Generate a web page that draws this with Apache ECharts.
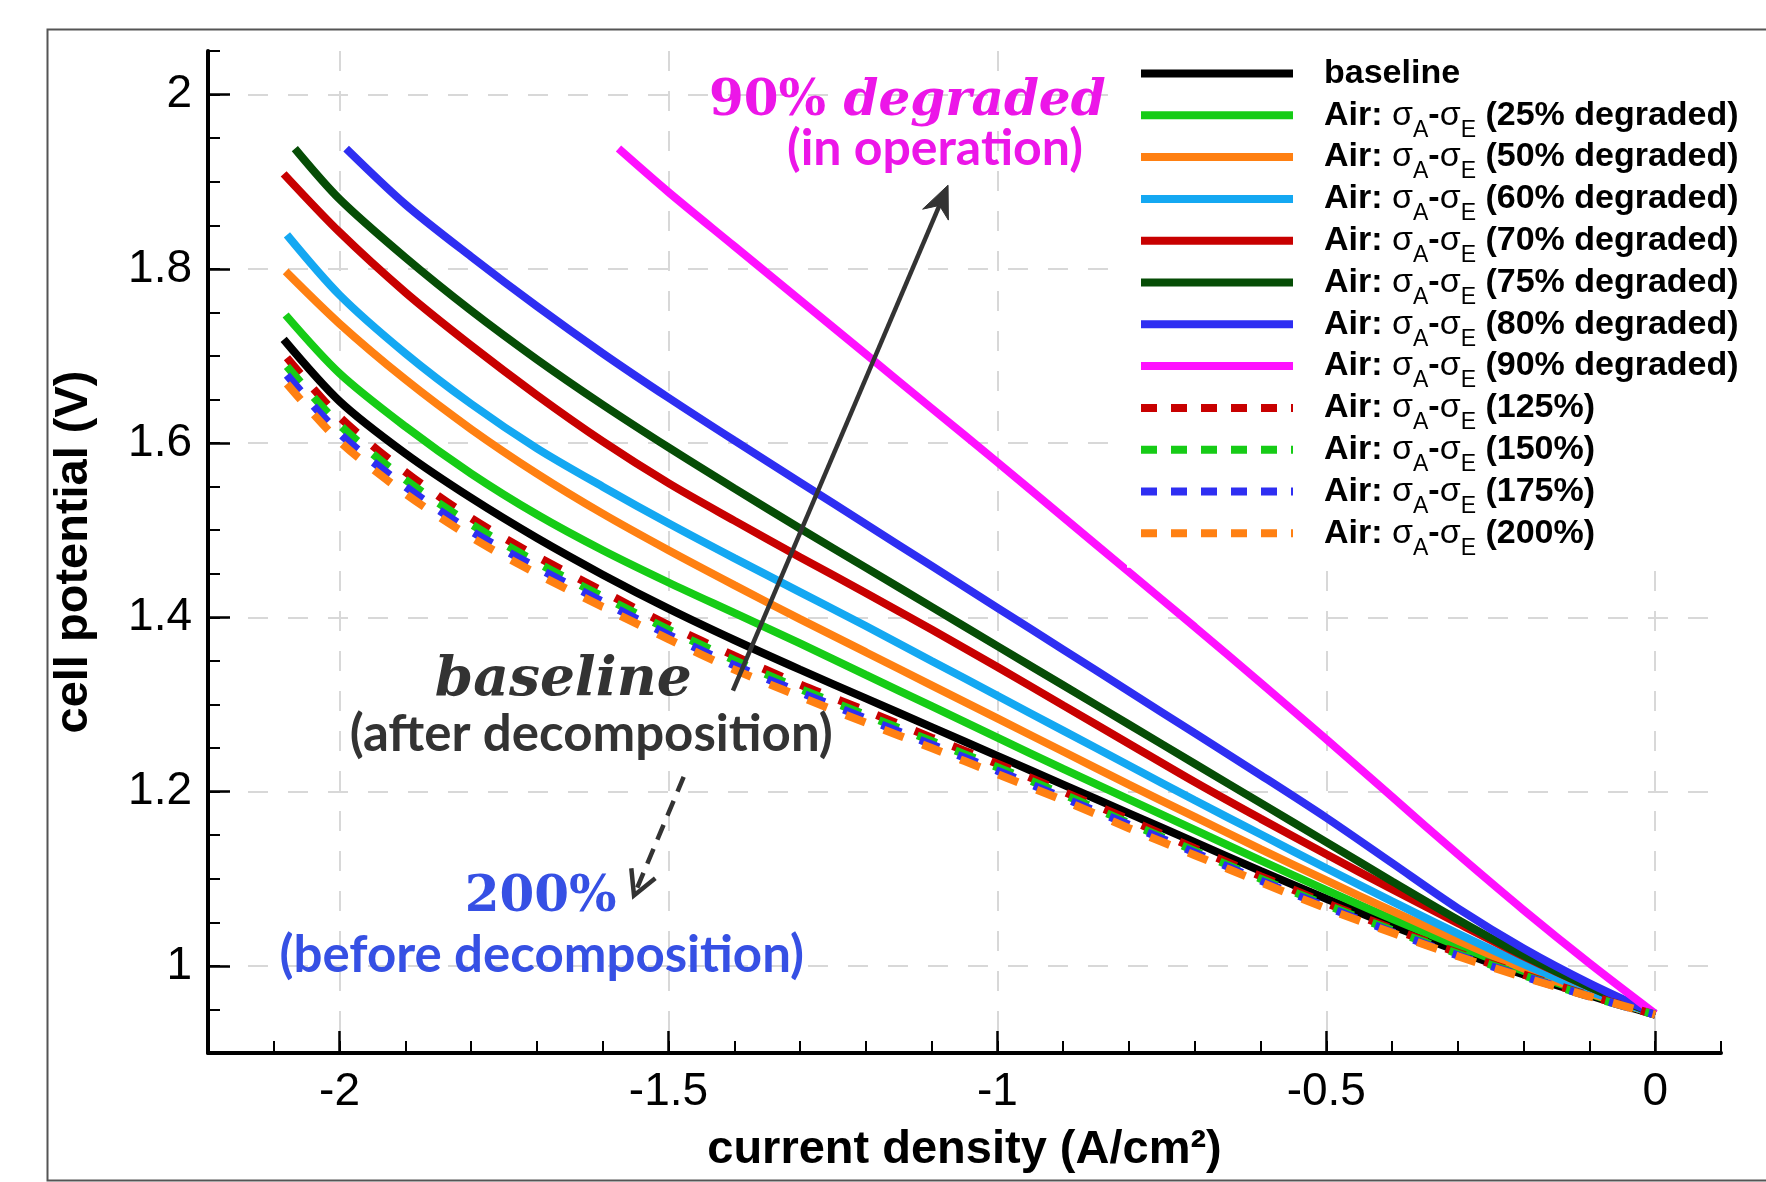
<!DOCTYPE html>
<html>
<head>
<meta charset="utf-8">
<script src="https://cdn.jsdelivr.net/npm/echarts@6/dist/echarts.min.js"></script>
<style>
html,body{margin:0;padding:0;background:#fff;}
#c{width:1766px;height:1182px;}
</style>
</head>
<body>
<div id="c"></div>
<script>
// ---------------- data ----------------
const currentDensity = [-2.0,-1.9,-1.8,-1.7,-1.6,-1.5,-1.4,-1.3,-1.2,-1.1,-1.0,-0.9,-0.8,-0.7,-0.6,-0.5,-0.4,-0.3,-0.2,-0.1,0];

const xTickValues = [-2, -1.5, -1, -0.5, 0];
const yTickValues = [1, 1.2, 1.4, 1.6, 1.8, 2];

const startBaseline = [-2.085, 1.719];
const baseline = [1.648,1.588,1.537,1.491,1.449,1.410,1.374,1.340,1.307,1.274,1.241,1.208,1.175,1.142,1.109,1.077,1.046,1.017,0.990,0.966,0.944];

const start25 = [-2.082, 1.747];
const degraded25 = [1.680,1.619,1.565,1.518,1.477,1.440,1.405,1.370,1.334,1.298,1.262,1.226,1.191,1.156,1.121,1.087,1.054,1.023,0.994,0.968,0.945];

const start50 = [-2.082, 1.797];
const degraded50 = [1.737,1.673,1.616,1.565,1.519,1.477,1.437,1.398,1.360,1.322,1.284,1.246,1.208,1.171,1.134,1.098,1.063,1.029,0.997,0.969,0.945];

const start60 = [-2.080, 1.839];
const degraded60 = [1.770,1.703,1.645,1.594,1.550,1.508,1.468,1.429,1.390,1.350,1.310,1.270,1.230,1.190,1.151,1.112,1.074,1.037,1.002,0.971,0.945];

const start70 = [-2.085, 1.909];
const degraded70 = [1.842,1.773,1.712,1.655,1.602,1.554,1.511,1.469,1.428,1.386,1.343,1.299,1.255,1.211,1.169,1.128,1.088,1.049,1.011,0.976,0.945];

const start75 = [-2.068, 1.938];
const degraded75 = [1.880,1.813,1.752,1.696,1.644,1.595,1.548,1.502,1.457,1.412,1.367,1.322,1.277,1.232,1.187,1.142,1.097,1.053,1.012,0.976,0.945];

const start80 = [-1.990, 1.938];
const degraded80 = [null,1.874,1.814,1.757,1.703,1.652,1.603,1.555,1.507,1.459,1.411,1.363,1.315,1.267,1.219,1.170,1.118,1.066,1.020,0.980,0.945];

const start90 = [-1.576, 1.938];
const degraded90 = [null,null,null,null,null,1.888,1.826,1.764,1.702,1.640,1.578,1.515,1.452,1.389,1.325,1.260,1.194,1.128,1.064,1.003,0.945];

const start125 = [-2.080, 1.698];
const ratio125 = [1.630,1.567,1.514,1.470,1.430,1.391,1.356,1.323,1.293,1.262,1.232,1.200,1.168,1.135,1.103,1.072,1.043,1.015,0.990,0.966,0.944];

const start150 = [-2.080, 1.688];
const ratio150 = [1.621,1.558,1.507,1.463,1.424,1.386,1.351,1.318,1.288,1.258,1.228,1.197,1.164,1.132,1.100,1.070,1.041,1.014,0.989,0.965,0.944];

const start175 = [-2.080, 1.678];
const ratio175 = [1.611,1.550,1.499,1.457,1.418,1.380,1.345,1.314,1.284,1.254,1.224,1.193,1.162,1.130,1.098,1.068,1.039,1.012,0.988,0.965,0.944];

const start200 = [-2.080, 1.668];
const ratio200 = [1.602,1.542,1.492,1.450,1.412,1.375,1.340,1.309,1.279,1.250,1.220,1.190,1.158,1.127,1.096,1.066,1.038,1.011,0.987,0.965,0.944];

const seriesNames = [
  'baseline',
  'Air: σA-σE (25% degraded)',
  'Air: σA-σE (50% degraded)',
  'Air: σA-σE (60% degraded)',
  'Air: σA-σE (70% degraded)',
  'Air: σA-σE (75% degraded)',
  'Air: σA-σE (80% degraded)',
  'Air: σA-σE (90% degraded)',
  'Air: σA-σE (125%)',
  'Air: σA-σE (150%)',
  'Air: σA-σE (175%)',
  'Air: σA-σE (200%)'
];
const seriesStarts = [startBaseline,start25,start50,start60,start70,start75,start80,start90,start125,start150,start175,start200];
const seriesValues = [baseline,degraded25,degraded50,degraded60,degraded70,degraded75,degraded80,degraded90,ratio125,ratio150,ratio175,ratio200];

// ---------------- styles ----------------
const seriesColors = ['#000000','#16cc16','#ff8012','#14a8f2','#c80000','#064d06','#2e2ef2','#ff10ff','#c80000','#16cc16','#2e2ef2','#ff8012'];
const seriesDashed = [false,false,false,false,false,false,false,false,true,true,true,true];

function buildData(start, ys) {
  const d = [start.slice()];
  currentDensity.forEach((x, i) => {
    if (ys[i] != null && x > start[0]) d.push([x, ys[i]]);
  });
  return d;
}

const series = seriesNames.map((name, i) => ({
  name: name,
  type: 'line',
  xAxisIndex: 0,
  yAxisIndex: 0,
  data: buildData(seriesStarts[i], seriesValues[i]),
  symbol: 'none',
  showSymbol: false,
  smooth: 0.3,
  color: seriesColors[i],
  lineStyle: {
    color: seriesColors[i],
    width: 8,
    type: seriesDashed[i] ? [21, 20] : 'solid',
    cap: 'butt'
  },
  emphasis: {disabled: true},
  z: 2 + i * 0.01
}));

const legendData = seriesNames.map((name, i) => seriesDashed[i]
  ? {name: name, lineStyle: {type: [16, 14], width: 8}}
  : {name: name, lineStyle: {width: 8}});

const FONT = 'Liberation Sans, Arial, sans-serif';

const chart = echarts.init(document.getElementById('c'), null, {renderer: 'canvas', width: 1766, height: 1182});

const option = {
  backgroundColor: '#ffffff',
  animation: false,
  grid: {left: 208, right: 45, top: 51, bottom: 129, containLabel: false},
  xAxis: [
    {
      type: 'value', min: -2.2, max: 0.1, position: 'bottom',
      name: 'current density (A/cm²)', nameLocation: 'middle', nameGap: 74,
      nameTextStyle: {fontFamily: FONT, fontWeight: 'bold', fontSize: 47, color: '#000'},
      axisLine: {show: true, onZero: false, lineStyle: {color: '#000', width: 4}},
      axisTick: {show: true, inside: true, length: 22, customValues: xTickValues, lineStyle: {color: '#000', width: 2.5}},
      axisLabel: {show: true, customValues: xTickValues, margin: 16, fontFamily: FONT, fontSize: 46, color: '#000'},
      splitLine: {show: true, lineStyle: {color: '#d8d8d8', width: 2, type: [20, 20]}}
    },
    {
      type: 'value', min: -2.2, max: 0.1, interval: 0.1, position: 'bottom',
      axisLine: {show: false, onZero: false},
      axisTick: {show: true, inside: true, length: 12, lineStyle: {color: '#000', width: 2}},
      axisLabel: {show: false},
      splitLine: {show: false}
    }
  ],
  yAxis: [
    {
      type: 'value', min: 0.9, max: 2.05, position: 'left',
      name: 'cell potential (V)', nameLocation: 'middle', nameGap: 110, nameRotate: 90,
      nameTextStyle: {fontFamily: FONT, fontWeight: 'bold', fontSize: 47, color: '#000'},
      axisLine: {show: true, onZero: false, lineStyle: {color: '#000', width: 4}},
      axisTick: {show: true, inside: true, length: 22, customValues: yTickValues, lineStyle: {color: '#000', width: 2.5}},
      axisLabel: {show: true, customValues: yTickValues, margin: 16, fontFamily: FONT, fontSize: 46, color: '#000'},
      splitLine: {show: true, lineStyle: {color: '#d8d8d8', width: 2, type: [20, 20]}}
    },
    {
      type: 'value', min: 0.9, max: 2.05, interval: 0.05, position: 'left',
      axisLine: {show: false, onZero: false},
      axisTick: {show: true, inside: true, length: 12, lineStyle: {color: '#000', width: 2}},
      axisLabel: {show: false},
      splitLine: {show: false}
    }
  ],
  legend: {
    orient: 'vertical',
    left: 1127, top: 37,
    padding: [10, 14, 8, 10],
    backgroundColor: '#ffffff',
    itemGap: -11.2,
    itemWidth: 152,
    itemHeight: 10,
    itemStyle: {opacity: 0},
    lineStyle: {width: 8},
    selectedMode: false,
    textStyle: {
      fontFamily: FONT, fontWeight: 'bold', fontSize: 34, color: '#000', lineHeight: 42,
      padding: [0, 0, 0, 26],
      rich: {
        g: {fontFamily: FONT, fontWeight: 'normal', fontSize: 34, lineHeight: 42, color: '#000'},
        s: {fontFamily: FONT, fontWeight: 'normal', fontSize: 23, lineHeight: 12, padding: [30, 0, 0, 0], color: '#000'}
      }
    },
    formatter: function (name) {
      if (name.indexOf('σA') < 0) return name + '{s| }';
      return name.replace('σA', '{g|σ}{s|A}').replace('σE', '{g|σ}{s|E}');
    },
    data: legendData
  },
  series: series
};

chart.setOption(option);

// ---------------- annotations (data coordinates) ----------------
const arrowUp = {from: [-1.402, 1.316], to: [-1.075, 1.896]};
const arrowDown = {from: [-1.4769, 1.2168], to: [-1.5524, 1.0809]};
const notes = [
  {at: [-1.137, 1.991], text: '{n|90%}{i| degraded}', kind: 'magentaTitle'},
  {at: [-1.095, 1.938], text: '(in operation)', kind: 'magentaSub'},
  {at: [-1.660, 1.327], text: 'baseline', kind: 'grayTitle'},
  {at: [-1.6173, 1.2658], text: '(after decomposition)', kind: 'graySub'},
  {at: [-1.6944, 1.0782], text: '200%', kind: 'blueTitle'},
  {at: [-1.6926, 1.0124], text: '(before decomposition)', kind: 'blueSub'}
];

const P = p => chart.convertToPixel({xAxisIndex: 0, yAxisIndex: 0}, p);
const SERIF = 'DejaVu Serif, serif';
const SANS2 = 'Lato, Open Sans, sans-serif';
const noteStyles = {
  magentaTitle: {fill: '#ec16e8', rich: {
    n: {fontFamily: SERIF, fontWeight: 'bold', fontSize: 50, fill: '#ec16e8'},
    i: {fontFamily: SERIF, fontWeight: 'bold', fontStyle: 'italic', fontSize: 50, fill: '#ec16e8'}
  }},
  magentaSub: {fill: '#ec16e8', fontFamily: SANS2, fontWeight: 'bold', fontSize: 50},
  grayTitle: {fill: '#333333', fontFamily: SERIF, fontWeight: 'bold', fontStyle: 'italic', fontSize: 55},
  graySub: {fill: '#333333', fontFamily: SANS2, fontWeight: 'bold', fontSize: 51},
  blueTitle: {fill: '#3650e4', fontFamily: SERIF, fontWeight: 'bold', fontSize: 50},
  blueSub: {fill: '#3650e4', fontFamily: SANS2, fontWeight: 'bold', fontSize: 51}
};

const graphics = [];
// outer frame of the figure
graphics.push({type: 'rect', left: 45, top: 27, shape: {width: 1800, height: 1151}, style: {fill: 'none', stroke: '#555', lineWidth: 2}, z: 0, silent: true});

function solidArrow(a) {
  const T = P(a.from), H = P(a.to);
  const dx = H[0] - T[0], dy = H[1] - T[1];
  const len = Math.hypot(dx, dy);
  const ux = dx / len, uy = dy / len, nx = -uy, ny = ux;
  const L = 32, W = 14, notch = 22;
  const bx = H[0] - ux * L, by = H[1] - uy * L;
  const mx = H[0] - ux * notch, my = H[1] - uy * notch;
  graphics.push({type: 'line', shape: {x1: T[0], y1: T[1], x2: mx, y2: my}, style: {stroke: '#333', lineWidth: 4.5}, z: 100, silent: true});
  graphics.push({type: 'polygon', shape: {points: [[H[0], H[1]], [bx + nx * W, by + ny * W], [mx, my], [bx - nx * W, by - ny * W]]}, style: {fill: '#333', stroke: '#333', lineWidth: 1}, z: 100, silent: true});
}
function dashedArrow(a) {
  const T = P(a.from), H = P(a.to);
  const dx = H[0] - T[0], dy = H[1] - T[1];
  const len = Math.hypot(dx, dy);
  const ux = dx / len, uy = dy / len, nx = -uy, ny = ux;
  const L = 24, W = 13;
  const bx = H[0] - ux * L, by = H[1] - uy * L;
  graphics.push({type: 'line', shape: {x1: T[0], y1: T[1], x2: H[0], y2: H[1]}, style: {stroke: '#333', lineWidth: 4.5, lineDash: [16, 10]}, z: 100, silent: true});
  graphics.push({type: 'polyline', shape: {points: [[bx + nx * W, by + ny * W], [H[0], H[1]], [bx - nx * W, by - ny * W]]}, style: {stroke: '#333', lineWidth: 4.5, fill: 'none'}, z: 100, silent: true});
}
solidArrow(arrowUp);
dashedArrow(arrowDown);

notes.forEach(n => {
  const p = P(n.at);
  const st = Object.assign({text: n.text, x: 0, y: 0, align: 'center', verticalAlign: 'middle'}, noteStyles[n.kind]);
  graphics.push({type: 'text', x: p[0], y: p[1], style: st, z: 101, silent: true});
});

chart.setOption({graphic: graphics});
</script>
</body>
</html>
